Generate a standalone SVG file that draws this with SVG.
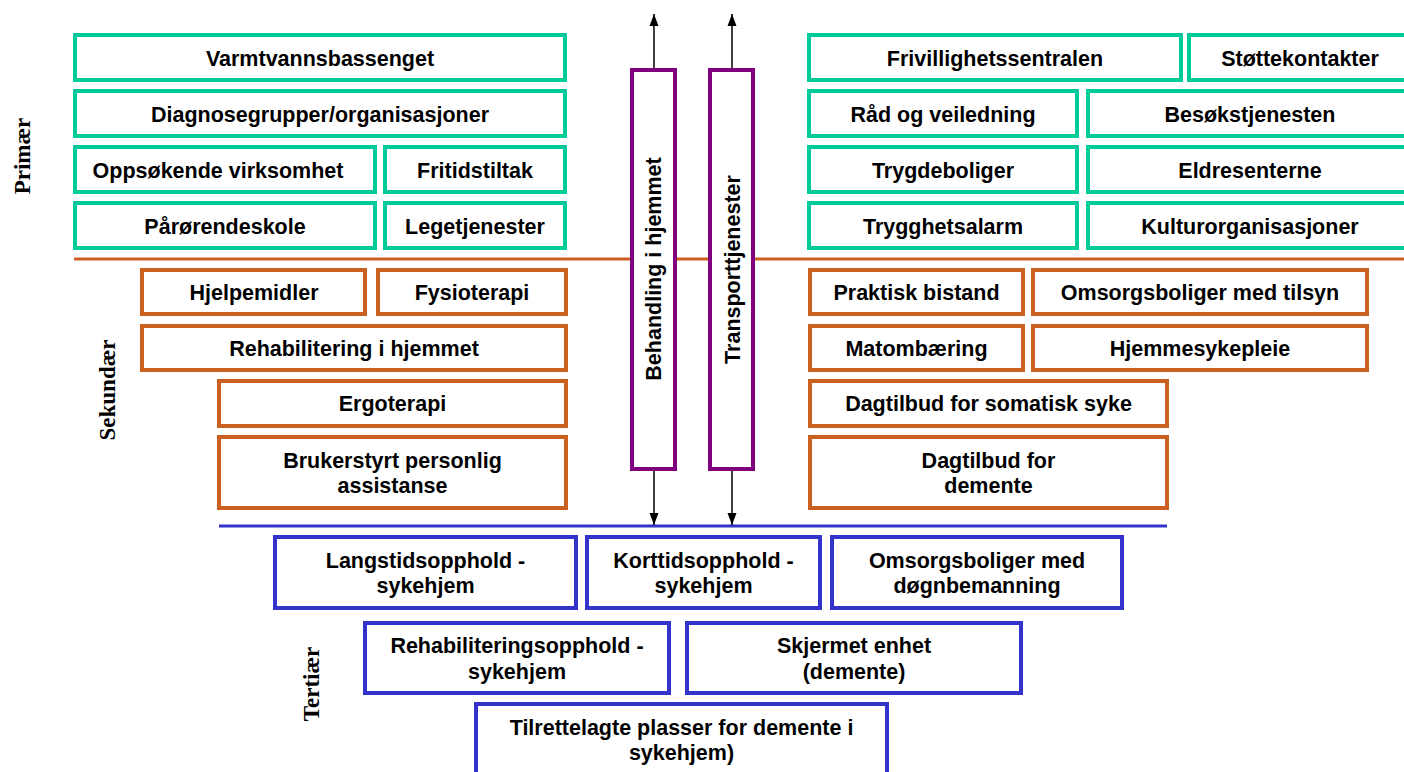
<svg xmlns="http://www.w3.org/2000/svg" width="1404" height="772" viewBox="0 0 1404 772">
<defs>
<style>
.g{fill:#fff;stroke:#00CC99;stroke-width:4}
.o{fill:#fff;stroke:#CC6020;stroke-width:4}
.b{fill:#fff;stroke:#3333CC;stroke-width:4}
.p{fill:#fff;stroke:#800080;stroke-width:4}
.t{font-family:"Liberation Sans",Arial,sans-serif;font-weight:bold;font-size:21.5px;fill:#000;text-anchor:middle}
.s{font-family:"Liberation Serif","Times New Roman",serif;font-weight:bold;font-size:23px;fill:#000;text-anchor:middle}
.c{stroke:#000;stroke-width:1.5;fill:none}
</style>
<marker id="ah" viewBox="0 0 12 10" refX="12" refY="5" markerWidth="12" markerHeight="10" markerUnits="userSpaceOnUse" orient="auto">
<path d="M0,0.5 L12,5 L0,9.5 z" fill="#000"/>
</marker>
</defs>
<rect width="1404" height="772" fill="#fff"/>

<g id="levels">
<text class="s" transform="translate(30,156) rotate(-90)">Primær</text>
<text class="s" transform="translate(115,390) rotate(-90)">Sekundær</text>
<text class="s" transform="translate(319,684) rotate(-90)">Tertiær</text>
</g>

<g id="separators">
<line x1="74" y1="259" x2="1404" y2="259" stroke="#CC6020" stroke-width="3"/>
<line x1="219" y1="526" x2="1167" y2="526" stroke="#3333CC" stroke-width="3"/>
</g>

<g id="connectors">
<line class="c" x1="654" y1="68" x2="654" y2="14" marker-end="url(#ah)"/>
<line class="c" x1="732" y1="68" x2="732" y2="14" marker-end="url(#ah)"/>
<line class="c" x1="654" y1="471" x2="654" y2="525" marker-end="url(#ah)"/>
<line class="c" x1="732" y1="471" x2="732" y2="525" marker-end="url(#ah)"/>
</g>

<g id="behandling"><rect class="p" x="632" y="70" width="43" height="399"/><text class="t" transform="translate(661,269) rotate(-90)">Behandling i hjemmet</text></g>
<g id="transport"><rect class="p" x="710" y="70" width="43" height="399"/><text class="t" transform="translate(740,269.5) rotate(-90)">Transporttjenester</text></g>

<g id="varmtvann"><rect class="g" x="75" y="35" width="490" height="45"/><text class="t" x="320" y="65.5">Varmtvannsbassenget</text></g>
<g id="diagnose"><rect class="g" x="75" y="91" width="490" height="45"/><text class="t" x="320" y="121.5">Diagnosegrupper/organisasjoner</text></g>
<g id="oppsokende"><rect class="g" x="75" y="147" width="300" height="45"/><text class="t" x="218" y="177.5">Oppsøkende virksomhet</text></g>
<g id="fritid"><rect class="g" x="385" y="147" width="180" height="45"/><text class="t" x="475" y="177.5">Fritidstiltak</text></g>
<g id="parorende"><rect class="g" x="75" y="203" width="300" height="45"/><text class="t" x="225" y="233.5">Pårørendeskole</text></g>
<g id="lege"><rect class="g" x="385" y="203" width="180" height="45"/><text class="t" x="475" y="233.5">Legetjenester</text></g>

<g id="frivillig"><rect class="g" x="809" y="35" width="372" height="45"/><text class="t" x="995" y="65.5">Frivillighetssentralen</text></g>
<g id="stotte"><rect class="g" x="1189" y="35" width="225" height="45"/><text class="t" x="1300" y="65.5">Støttekontakter</text></g>
<g id="rad"><rect class="g" x="809" y="91" width="268" height="45"/><text class="t" x="943" y="121.5">Råd og veiledning</text></g>
<g id="besok"><rect class="g" x="1088" y="91" width="326" height="45"/><text class="t" x="1250" y="121.5">Besøkstjenesten</text></g>
<g id="trygdebolig"><rect class="g" x="809" y="147" width="268" height="45"/><text class="t" x="943" y="177.5">Trygdeboliger</text></g>
<g id="eldresenter"><rect class="g" x="1088" y="147" width="326" height="45"/><text class="t" x="1250" y="177.5">Eldresenterne</text></g>
<g id="trygghet"><rect class="g" x="809" y="203" width="268" height="45"/><text class="t" x="943" y="233.5">Trygghetsalarm</text></g>
<g id="kultur"><rect class="g" x="1088" y="203" width="326" height="45"/><text class="t" x="1250" y="233.5">Kulturorganisasjoner</text></g>

<g id="hjelpemidler"><rect class="o" x="142" y="270" width="223" height="44"/><text class="t" x="254" y="299.5">Hjelpemidler</text></g>
<g id="fysio"><rect class="o" x="378" y="270" width="188" height="44"/><text class="t" x="472" y="299.5">Fysioterapi</text></g>
<g id="rehab"><rect class="o" x="142" y="326" width="424" height="44"/><text class="t" x="354" y="355.5">Rehabilitering i hjemmet</text></g>
<g id="ergo"><rect class="o" x="219" y="381" width="347" height="45"/><text class="t" x="392.5" y="411">Ergoterapi</text></g>
<g id="bpa"><rect class="o" x="219" y="437" width="347" height="71"/><text class="t" x="392.5" y="467.5">Brukerstyrt personlig</text><text class="t" x="392.5" y="493">assistanse</text></g>

<g id="praktisk"><rect class="o" x="810" y="270" width="213" height="44"/><text class="t" x="916.5" y="299.5">Praktisk bistand</text></g>
<g id="omsorgtilsyn"><rect class="o" x="1033" y="270" width="334" height="44"/><text class="t" x="1200" y="299.5">Omsorgsboliger med tilsyn</text></g>
<g id="mat"><rect class="o" x="810" y="326" width="213" height="44"/><text class="t" x="916.5" y="355.5">Matombæring</text></g>
<g id="hjemmesyk"><rect class="o" x="1033" y="326" width="334" height="44"/><text class="t" x="1200" y="355.5">Hjemmesykepleie</text></g>
<g id="dagsomatisk"><rect class="o" x="810" y="381" width="357" height="45"/><text class="t" x="988.5" y="411">Dagtilbud for somatisk syke</text></g>
<g id="dagdemente"><rect class="o" x="810" y="437" width="357" height="71"/><text class="t" x="988.5" y="467.5">Dagtilbud for</text><text class="t" x="988.5" y="493">demente</text></g>

<g id="langtid"><rect class="b" x="275" y="537" width="301" height="71"/><text class="t" x="425.5" y="567.5">Langstidsopphold -</text><text class="t" x="425.5" y="593">sykehjem</text></g>
<g id="korttid"><rect class="b" x="587" y="537" width="233" height="71"/><text class="t" x="703.5" y="567.5">Korttidsopphold -</text><text class="t" x="703.5" y="593">sykehjem</text></g>
<g id="omsorgdogn"><rect class="b" x="832" y="537" width="290" height="71"/><text class="t" x="977" y="567.5">Omsorgsboliger med</text><text class="t" x="977" y="593">døgnbemanning</text></g>
<g id="rehabopphold"><rect class="b" x="365" y="623" width="304" height="70"/><text class="t" x="517" y="653">Rehabiliteringsopphold -</text><text class="t" x="517" y="678.5">sykehjem</text></g>
<g id="skjermet"><rect class="b" x="687" y="623" width="334" height="70"/><text class="t" x="854" y="653">Skjermet enhet</text><text class="t" x="854" y="678.5">(demente)</text></g>
<g id="tilrettelagt"><rect class="b" x="476" y="704" width="411" height="75"/><text class="t" x="681.5" y="735">Tilrettelagte plasser for demente i</text><text class="t" x="681.5" y="760">sykehjem)</text></g>
</svg>
